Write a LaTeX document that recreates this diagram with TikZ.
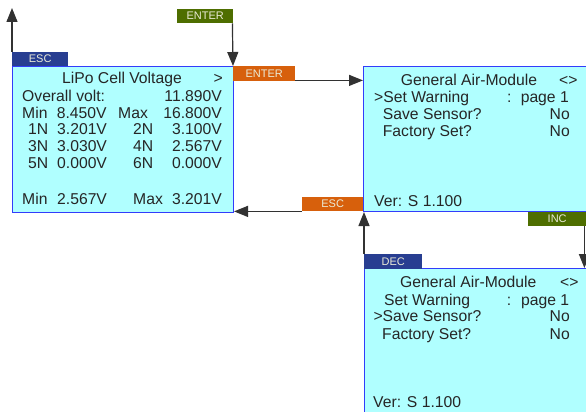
\documentclass[tikz,border=0pt]{standalone}
\usepackage{fontspec}
\setmainfont{Liberation Sans}
\usetikzlibrary{arrows.meta, positioning}
\definecolor{screencyan}{RGB}{176, 255, 255}
\definecolor{screenblue}{RGB}{50, 60, 250}
\definecolor{keyblue}{RGB}{40, 62, 145}
\definecolor{keygreen}{RGB}{78, 110, 0}
\definecolor{keyorange}{RGB}{215, 96, 12}
\definecolor{keytext}{RGB}{235, 235, 215}
\definecolor{arrowgray}{RGB}{50, 50, 50}

\begin{document}
\begin{tikzpicture}[x=1pt, y=-1pt, >={Triangle[length=14pt, width=11pt]},
  screen/.style={draw=screenblue, fill=screencyan, line width=1pt, inner sep=0pt, anchor=north west},
  key/.style={text=keytext, inner sep=0pt, anchor=north west, font=\fontsize{11}{12}\selectfont},
  lcd/.style={font=\fontsize{15.7}{17}\selectfont, text=black!85, inner sep=0pt},
  nav/.style={->, arrowgray, line width=1.2pt}]

  \useasboundingbox (0, 0) rectangle (586, 412);

  % Screens
  \node[screen, minimum width=221pt, minimum height=146pt] (lipo) at (12, 66) {};
  \node[screen, minimum width=223pt, minimum height=145pt] (airA) at (363, 66) {};
  \node[screen, minimum width=222pt, minimum height=160pt] (airB) at (364, 268) {};

  % LiPo screen text
  \node[lcd, anchor=base west] (lT) at (62, 83.3) {LiPo Cell Voltage};
  \node[lcd, anchor=base east] (lTa) at (223, 83.3) {>};
  \node[lcd, anchor=base west] (lO) at (22, 101.7) {Overall volt:};
  \node[lcd, anchor=base east] (lOv) at (222, 101.7) {11.890V};
  \node[lcd, anchor=base west] (lMin) at (22, 118.3) {Min};
  \node[lcd, anchor=base west] (lMinv) at (56.7, 118.3) {8.450V};
  \node[lcd, anchor=base west] (lMax) at (118, 118.3) {Max};
  \node[lcd, anchor=base east] (lMaxv) at (222, 118.3) {16.800V};
  \node[lcd, anchor=base west] (l1) at (28, 134.5) {1N};
  \node[lcd, anchor=base west] (l1v) at (57, 134.5) {3.201V};
  \node[lcd, anchor=base west] (l2) at (133, 134.5) {2N};
  \node[lcd, anchor=base east] (l2v) at (222, 134.5) {3.100V};
  \node[lcd, anchor=base west] (l3) at (28, 151) {3N};
  \node[lcd, anchor=base west] (l3v) at (57, 151) {3.030V};
  \node[lcd, anchor=base west] (l4) at (133, 151) {4N};
  \node[lcd, anchor=base east] (l4v) at (222, 151) {2.567V};
  \node[lcd, anchor=base west] (l5) at (28, 168) {5N};
  \node[lcd, anchor=base west] (l5v) at (57, 168) {0.000V};
  \node[lcd, anchor=base west] (l6) at (133, 168) {6N};
  \node[lcd, anchor=base east] (l6v) at (222, 168) {0.000V};
  \node[lcd, anchor=base west] (lCmin) at (22, 204) {Min};
  \node[lcd, anchor=base west] (lCminv) at (57, 204) {2.567V};
  \node[lcd, anchor=base west] (lCmax) at (133, 204) {Max};
  \node[lcd, anchor=base east] (lCmaxv) at (222, 204) {3.201V};

  % Air-Module screen, page 1
  \node[lcd, anchor=base west] (aT) at (400.7, 85) {General Air-Module};
  \node[lcd, anchor=base east] (aTa) at (577.7, 85) {<>};
  \node[lcd, anchor=base west] (aW) at (374, 102.7) {>Set Warning};
  \node[lcd, anchor=base west] (aWc) at (507, 102.7) {:};
  \node[lcd, anchor=base east] (aWv) at (569, 102.7) {page 1};
  \node[lcd, anchor=base west] (aS) at (382.7, 119.3) {Save Sensor?};
  \node[lcd, anchor=base east] (aSv) at (570, 119.3) {No};
  \node[lcd, anchor=base west] (aF) at (382.7, 136) {Factory Set?};
  \node[lcd, anchor=base east] (aFv) at (570, 136) {No};
  \node[lcd, anchor=base west] (aV) at (374, 206) {Ver: S 1.100};

  % Air-Module screen, cursor on Save Sensor
  \node[lcd, anchor=base west] (bT) at (400, 287.3) {General Air-Module};
  \node[lcd, anchor=base east] (bTa) at (578.7, 287.3) {<>};
  \node[lcd, anchor=base west] (bW) at (384, 305) {Set Warning};
  \node[lcd, anchor=base west] (bWc) at (506.7, 305) {:};
  \node[lcd, anchor=base east] (bWv) at (569.3, 305) {page 1};
  \node[lcd, anchor=base west] (bS) at (373.3, 321.7) {>Save Sensor?};
  \node[lcd, anchor=base east] (bSv) at (570, 321.7) {No};
  \node[lcd, anchor=base west] (bF) at (382, 339.3) {Factory Set?};
  \node[lcd, anchor=base east] (bFv) at (570, 339.3) {No};
  \node[lcd, anchor=base west] (bV) at (373, 407) {Ver: S 1.100};

  % Keys
  \node[key, fill=keyblue, minimum width=56pt, minimum height=14pt] (escA) at (12, 52) {ESC};
  \node[key, fill=keygreen, minimum width=56pt, minimum height=14pt] (enterA) at (177, 9) {ENTER};
  \node[key, fill=keyorange, minimum width=62pt, minimum height=15pt] (enterB) at (233, 66) {ENTER};
  \node[key, fill=keyorange, minimum width=61pt, minimum height=14pt] (escB) at (302, 197) {ESC};
  \node[key, fill=keygreen, minimum width=58pt, minimum height=14pt] (inc) at (528, 212) {INC};
  \node[key, fill=keyblue, minimum width=58pt, minimum height=15pt] (dec) at (364, 254) {DEC};

  % Navigation
  \coordinate (back) at (12, 8);
  \draw[nav] (escA.north west) -- (back);
  \draw[nav] ([xshift=-1pt]enterA.south east) -- ([xshift=-1pt]lipo.north east);
  \draw[nav] ([yshift=1pt]enterB.south east) -- ([yshift=1pt]enterB.south east -| airA.west);
  \draw[nav] (escB.south west) -- (escB.south west -| lipo.east);
  \draw[nav] ([xshift=-2pt]inc.south east) -- ([xshift=-2pt]inc.south east |- airB.north);
  \draw[nav] (dec.north west) -- (dec.north west |- airA.south);

\end{tikzpicture}
\end{document}
